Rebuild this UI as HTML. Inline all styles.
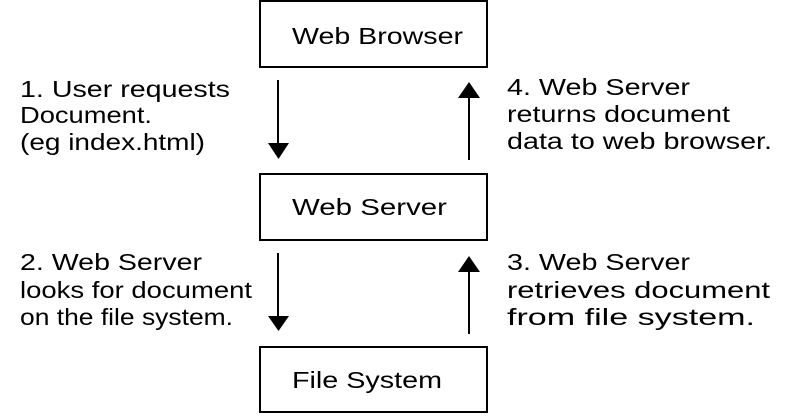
<!DOCTYPE html>
<html><head><style>html,body{margin:0;padding:0;background:#fff;}svg{display:block}</style></head>
<body>
<svg width="799" height="416" viewBox="0 0 799 416" xmlns="http://www.w3.org/2000/svg">
<g fill="none" stroke="#000" stroke-width="2">
<rect x="260" y="1" width="227" height="66"/>
<rect x="260" y="174" width="227" height="66"/>
<rect x="260" y="347" width="227" height="65"/>
<line x1="278" y1="80" x2="278" y2="146"/>
<line x1="469" y1="160" x2="469" y2="94"/>
<line x1="278" y1="253" x2="278" y2="318"/>
<line x1="469" y1="334" x2="469" y2="268"/>
</g>
<g fill="#000">
<polygon points="268,143 289,143 278.5,159"/>
<polygon points="458,98 480,98 469,82"/>
<polygon points="268,316 289,316 278.5,331"/>
<polygon points="458,272 480,272 469,256"/>
</g>
<g font-family="Liberation Sans, sans-serif" font-size="23" fill="#000">
<text x="292" y="44" textLength="171" lengthAdjust="spacingAndGlyphs">Web Browser</text>
<text x="292" y="215" textLength="155" lengthAdjust="spacingAndGlyphs">Web Server</text>
<text x="292" y="388" textLength="150" lengthAdjust="spacingAndGlyphs">File System</text>
<text x="20" y="97" textLength="210" lengthAdjust="spacingAndGlyphs">1. User requests</text>
<text x="20" y="123" textLength="132" lengthAdjust="spacingAndGlyphs">Document.</text>
<text x="20" y="150" textLength="185" lengthAdjust="spacingAndGlyphs">(eg index.html)</text>
<text x="507" y="95" textLength="183" lengthAdjust="spacingAndGlyphs">4. Web Server</text>
<text x="507" y="122" textLength="223" lengthAdjust="spacingAndGlyphs">returns document</text>
<text x="507" y="149" textLength="265" lengthAdjust="spacingAndGlyphs">data to web browser.</text>
<text x="20" y="270" textLength="182" lengthAdjust="spacingAndGlyphs">2. Web Server</text>
<text x="20" y="298" textLength="232" lengthAdjust="spacingAndGlyphs">looks for document</text>
<text x="20" y="325" textLength="213" lengthAdjust="spacingAndGlyphs">on the file system.</text>
<text x="507" y="270" textLength="183" lengthAdjust="spacingAndGlyphs">3. Web Server</text>
<text x="507" y="298" textLength="263" lengthAdjust="spacingAndGlyphs">retrieves document</text>
<text x="507" y="325" textLength="248" lengthAdjust="spacingAndGlyphs">from file system.</text>
</g>
</svg>
</body></html>
